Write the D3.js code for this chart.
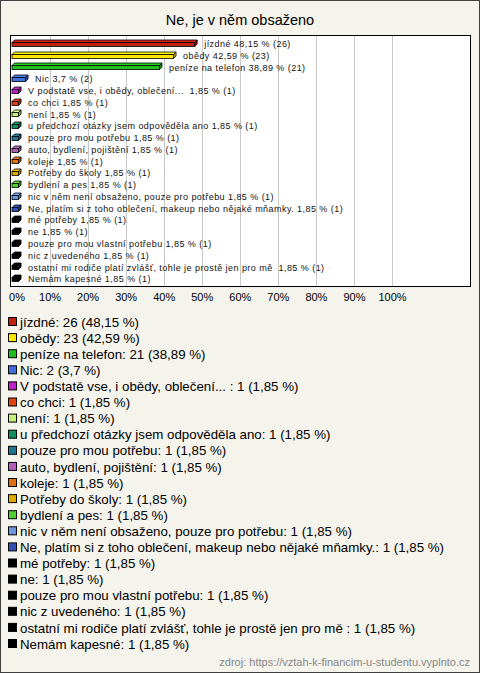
<!DOCTYPE html>
<html><head><meta charset="utf-8">
<script src="https://cdn.jsdelivr.net/npm/d3@7"></script>
<style>body{margin:0;background:#fff}svg{display:block}</style>
</head><body>
<script>
const categories = ["jízdné","obědy","peníze na telefon","Nic","V podstatě vse, i obědy, oblečení... ","co chci","není","u předchozí otázky jsem odpověděla ano","pouze pro mou potřebu","auto, bydlení, pojištění","koleje","Potřeby do školy","bydlení a pes","nic v něm není obsaženo, pouze pro potřebu","Ne, platím si z toho oblečení, makeup nebo nějaké mňamky.","mé potřeby","ne","pouze pro mou vlastní potřebu","nic z uvedeného","ostatní mi rodiče platí zvlášť, tohle je prostě jen pro mě ","Nemám kapesné"];
const counts = [26,23,21,2,1,1,1,1,1,1,1,1,1,1,1,1,1,1,1,1,1];
const percents = [48.15,42.59,38.89,3.7,1.85,1.85,1.85,1.85,1.85,1.85,1.85,1.85,1.85,1.85,1.85,1.85,1.85,1.85,1.85,1.85,1.85];
const colors = ["#c0200c","#ffe400","#1fbf1f","#4070e0","#c020c8","#e0400c","#c4f080","#109060","#1f7890","#b060b8","#e07010","#e0aa00","#50d030","#6c98e0","#3050b8","#000000","#000000","#000000","#000000","#000000","#000000"];
const xTicks = [0,10,20,30,40,50,60,70,80,90,100];
const title = "Ne, je v něm obsaženo";
const source = "zdroj: https://vztah-k-financim-u-studentu.vyplnto.cz";

const W = 480, H = 673;
const svg = d3.select("body").append("svg").attr("width", W).attr("height", H);
svg.append("rect").attr("x",0.5).attr("y",0.5).attr("width",W-1).attr("height",H-1)
  .attr("fill","#f4f3ec").attr("stroke","#404040");

svg.append("text").attr("x",240).attr("y",25).attr("text-anchor","middle")
  .attr("font-family","Liberation Sans, Arial, sans-serif").attr("font-size",14.5).attr("fill","#000").text(title);

const plot = {l:10, t:35, r:470, b:286};
svg.append("rect").attr("x",plot.l+0.5).attr("y",plot.t+0.5).attr("width",plot.r-plot.l).attr("height",plot.b-plot.t)
  .attr("fill","#fff");

const x = d3.scaleLinear().domain([0,100]).range([11.5,392]);
const y = d3.scaleBand().domain(categories.map((d,i)=>i)).range([plot.t+2, plot.b-2]).paddingInner(0).paddingOuter(0);

svg.append("g").selectAll("line").data(xTicks.slice(1)).join("line")
  .attr("x1",d=>Math.round(x(d))+0.5).attr("x2",d=>Math.round(x(d))+0.5)
  .attr("y1",plot.t).attr("y2",plot.b).attr("stroke","#c8c8c8").attr("stroke-width",1);

const axis = d3.axisBottom(x).tickValues(xTicks).tickFormat(d=>d+"%").tickSize(0).tickPadding(0);
const ag = svg.append("g").attr("transform",`translate(0,${plot.b+7})`).call(axis);
ag.select(".domain").remove();
ag.selectAll("text").attr("font-family","Liberation Sans, Arial, sans-serif").attr("font-size",11).attr("fill","#000")
  .attr("dy","0.71em").attr("dx", d=> d===0 ? 5 : 0);

const dep = 2.5, bh = 4;
const bars = svg.append("g").selectAll("g").data(categories.map((c,i)=>i)).join("g");
bars.each(function(i){
  const g = d3.select(this);
  const x0 = x(0)+0.5, x1 = x(percents[i]);
  const yc = y(i) + y.bandwidth()/2;
  const y0 = Math.round(yc - bh/2 + 1) + 0.5;
  const c = d3.color(colors[i]);
  const dark = colors[i]==="#000000" ? "#000" : c.darker(0.8).toString();
  const light = colors[i]==="#000000" ? "#000" : c.brighter(0.3).toString();
  g.append("path").attr("d",`M${x0},${y0} L${x0+dep},${y0-dep} L${x1+dep},${y0-dep} L${x1},${y0} Z`)
    .attr("fill",light).attr("stroke","#000").attr("stroke-width",0.8);
  g.append("path").attr("d",`M${x1},${y0} L${x1+dep},${y0-dep} L${x1+dep},${y0-dep+bh} L${x1},${y0+bh} Z`)
    .attr("fill",dark).attr("stroke","#000").attr("stroke-width",0.8);
  g.append("rect").attr("x",x0).attr("y",y0).attr("width",Math.max(0,x1-x0)).attr("height",bh)
    .attr("fill",colors[i]).attr("stroke","#000").attr("stroke-width",0.8);
  g.append("text").attr("x",x1+dep+7).attr("y",yc+1).attr("dy","0.35em")
    .attr("font-family","Liberation Sans, Arial, sans-serif").attr("font-size",9).attr("letter-spacing",0.45)
    .attr("fill","#111").style("white-space","pre")
    .text(categories[i]+" "+String(percents[i]).replace(".",",")+" % ("+counts[i]+")");
});

svg.append("rect").attr("x",plot.l+0.5).attr("y",plot.t+0.5).attr("width",plot.r-plot.l).attr("height",plot.b-plot.t)
  .attr("fill","none").attr("stroke","#000");

const ly0 = 322, lstep = 16.1;
const leg = svg.append("g").selectAll("g").data(categories.map((c,i)=>i)).join("g")
  .attr("transform",i=>`translate(8,${ly0 + i*lstep})`);
leg.append("rect").attr("x",0.5).attr("y",-4.5).attr("width",8).attr("height",8)
  .attr("fill",i=>colors[i]).attr("stroke","#000");
leg.append("text").attr("x",12).attr("y",0).attr("dy","0.35em")
  .attr("font-family","Liberation Sans, Arial, sans-serif").attr("font-size",13.3).attr("fill","#000")
  .style("white-space","pre")
  .text(i=>categories[i]+": "+counts[i]+" ("+String(percents[i]).replace(".",",")+" %)");

svg.append("text").attr("x",470).attr("y",666).attr("text-anchor","end")
  .attr("font-family","Liberation Sans, Arial, sans-serif").attr("font-size",11).attr("fill","#888").text(source);
</script>
</body></html>
